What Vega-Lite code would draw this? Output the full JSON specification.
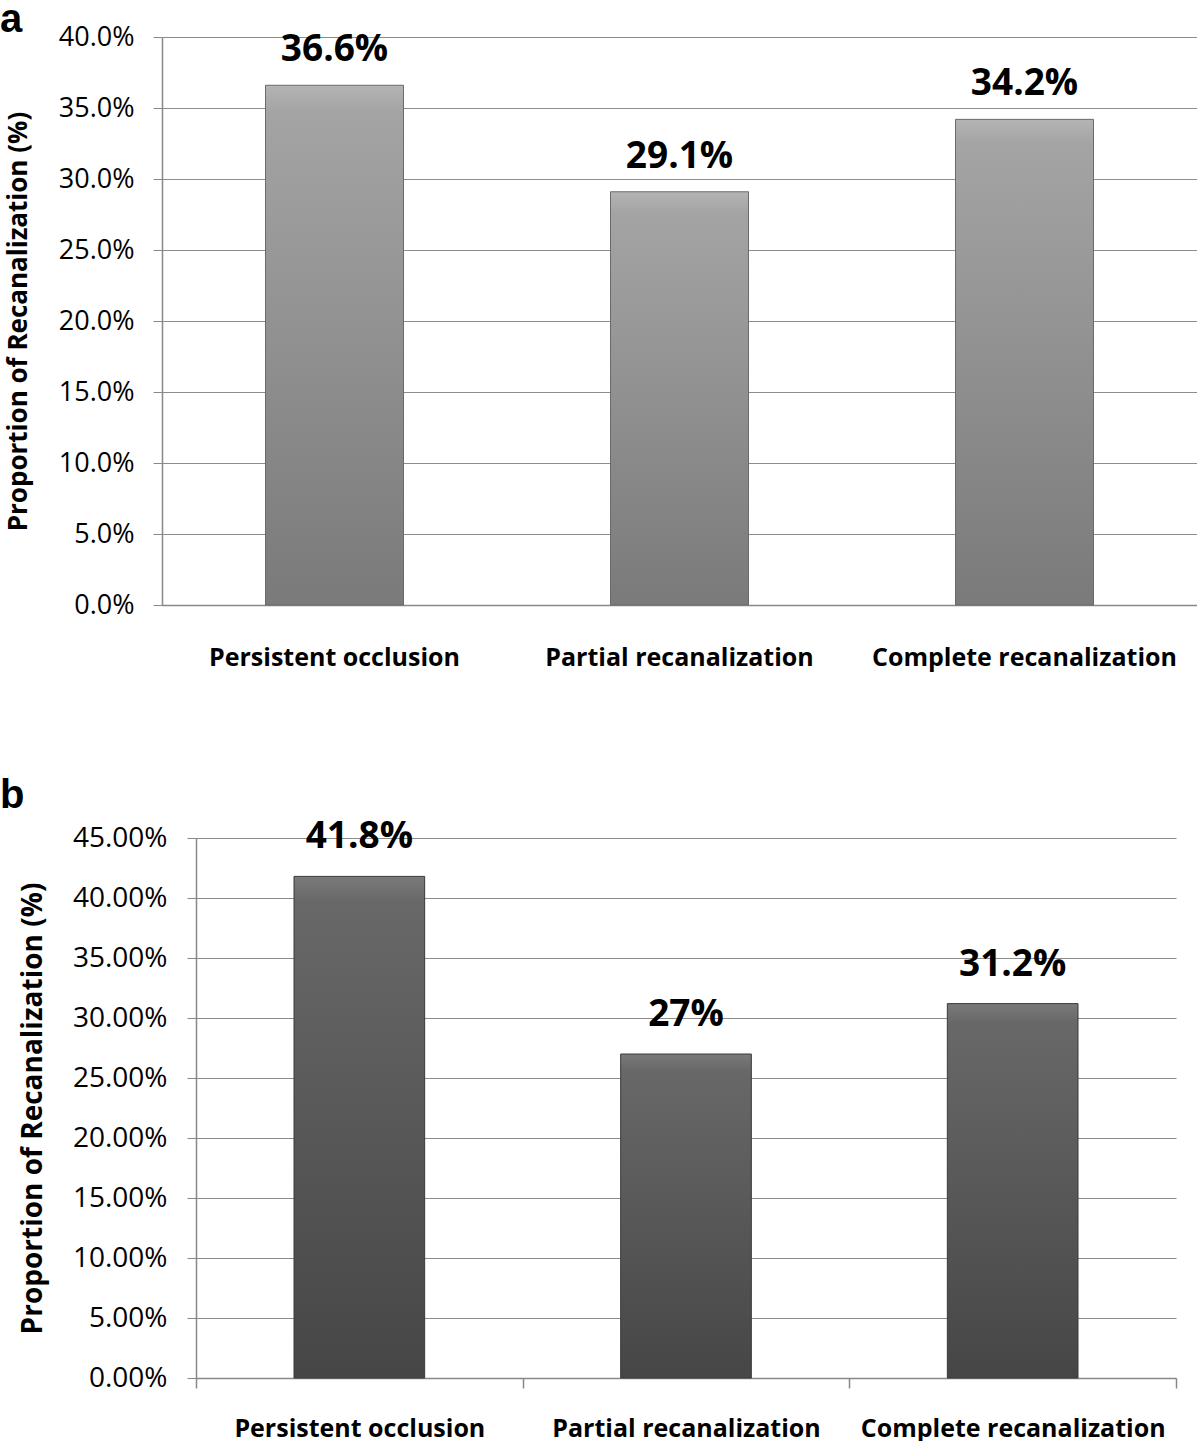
{
  "$schema": "https://vega.github.io/schema/vega-lite/v6.json",
  "padding": {"left": 0, "top": 0, "right": 0, "bottom": 0},
  "background": "white",
  "datasets": {
    "a": [
      {"group": "Persistent occlusion", "proportion": 0.366, "label": "36.6%"},
      {"group": "Partial recanalization", "proportion": 0.291, "label": "29.1%"},
      {"group": "Complete recanalization", "proportion": 0.342, "label": "34.2%"}
    ],
    "b": [
      {"group": "Persistent occlusion", "proportion": 0.418, "label": "41.8%"},
      {"group": "Partial recanalization", "proportion": 0.27, "label": "27%"},
      {"group": "Complete recanalization", "proportion": 0.312, "label": "31.2%"}
    ]
  },
  "config": {
    "view": {"stroke": null},
    "font": "Open Sans",
    "axis": {"domainColor": "#888888", "gridColor": "#8c8c8c", "tickColor": "#888888", "labelColor": "#000000", "titleColor": "#000000", "labelLimit": 0}
  },
  "spacing": 106,
  "vconcat": [
    {
      "width": 1035,
      "height": 568,
      "title": {"text": "a", "anchor": "start", "frame": "group", "dx": -162, "font": "Liberation Sans", "fontSize": 40, "fontWeight": "bold", "color": "#000000", "baseline": "alphabetic", "offset": -49},
      "data": {"name": "a"},
      "encoding": {
        "x": {"field": "group", "type": "nominal", "sort": null,
          "scale": {"paddingInner": 0, "paddingOuter": 0},
          "axis": {"title": null, "labelAngle": 0, "ticks": false, "labelPadding": 40, "labelFontSize": 25, "labelFontWeight": "bold", "domainWidth": 1.5}},
        "y": {"field": "proportion", "type": "quantitative",
          "scale": {"domain": [0, 0.4], "nice": false},
          "axis": {"title": "Proportion of Recanalization (%)", "titleFontSize": 26, "titleFontWeight": "bold", "titlePadding": 27,
            "values": [0, 0.05, 0.1, 0.15, 0.2, 0.25, 0.3, 0.35, 0.4], "format": ".1%", "labelFontSize": 27, "labelPadding": 19, "tickSize": 9, "domainWidth": 1.5, "gridWidth": 1.2}}
      },
      "layer": [
        {"mark": {"type": "bar", "width": {"band": 0.4}, "stroke": "#6a6a6a", "strokeWidth": 1,
          "color": {"gradient": "linear", "x1": 0, "y1": 0, "x2": 0, "y2": 1, "stops": [{"offset": 0, "color": "#b4b4b4"}, {"offset": 0.05, "color": "#a4a4a4"}, {"offset": 1, "color": "#7a7a7a"}]}}},
        {"mark": {"type": "text", "fontSize": 37, "fontWeight": "bold", "baseline": "alphabetic", "dy": -24, "color": "#000000"},
          "encoding": {"text": {"field": "label"}}}
      ]
    },
    {
      "width": 1014,
      "height": 540,
      "title": {"text": "b", "anchor": "start", "frame": "group", "dx": -162, "font": "Liberation Sans", "fontSize": 40, "fontWeight": "bold", "color": "#000000", "baseline": "alphabetic", "offset": -30},
      "data": {"name": "b"},
      "encoding": {
        "x": {"field": "group", "type": "nominal", "sort": null,
          "scale": {"paddingInner": 0, "paddingOuter": 0, "range": [34, 1014]},
          "axis": {"title": null, "labelAngle": 0, "tickBand": "extent", "tickSize": 10, "labelPadding": 28, "labelFontSize": 25, "labelFontWeight": "bold", "domainWidth": 1.5, "tickWidth": 1.5}},
        "y": {"field": "proportion", "type": "quantitative",
          "scale": {"domain": [0, 0.45], "nice": false},
          "axis": {"title": "Proportion of Recanalization (%)", "titleFontSize": 28, "titleFontWeight": "bold", "titlePadding": 25, "offset": -34,
            "values": [0, 0.05, 0.1, 0.15, 0.2, 0.25, 0.3, 0.35, 0.4, 0.45], "format": ".2%", "labelFontSize": 28, "labelPadding": 20, "tickSize": 9, "domainWidth": 1.5, "gridWidth": 1.2}}
      },
      "layer": [
        {"mark": {"type": "bar", "width": {"band": 0.4}, "stroke": "#3a3a3a", "strokeWidth": 1,
          "color": {"gradient": "linear", "x1": 0, "y1": 0, "x2": 0, "y2": 1, "stops": [{"offset": 0, "color": "#7a7a7a"}, {"offset": 0.05, "color": "#686868"}, {"offset": 1, "color": "#464646"}]}}},
        {"mark": {"type": "text", "fontSize": 37, "fontWeight": "bold", "baseline": "alphabetic", "dy": -28, "color": "#000000"},
          "encoding": {"text": {"field": "label"}}}
      ]
    }
  ]
}
